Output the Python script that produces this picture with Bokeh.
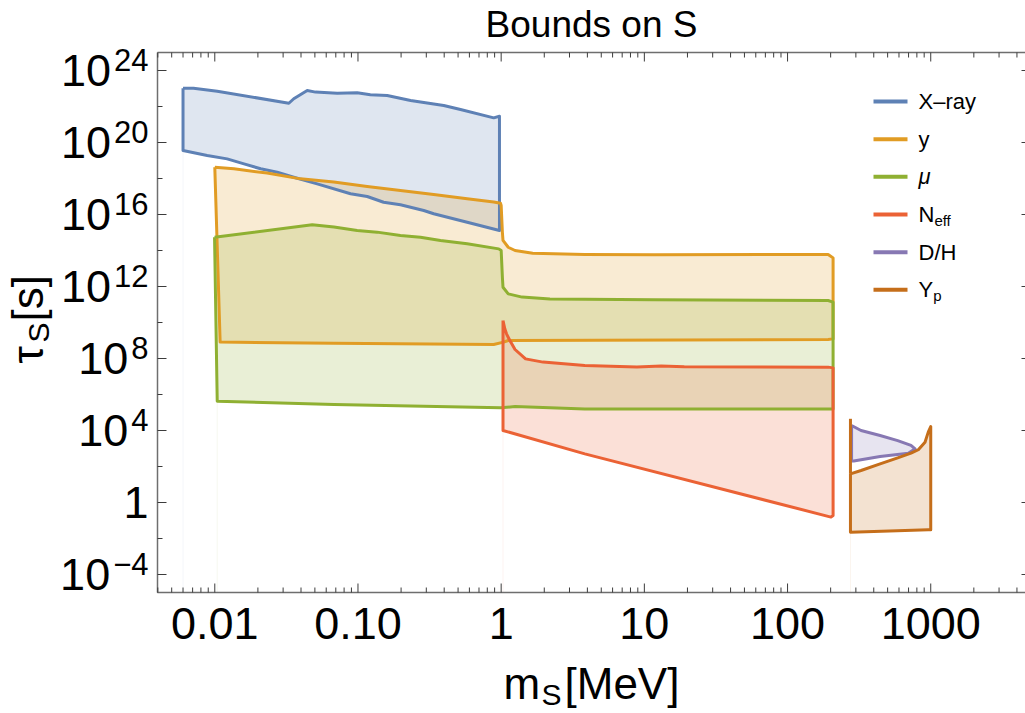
import numpy as np
from bokeh.plotting import figure
from bokeh.models import Label, Range1d
from bokeh.embed import file_html
from bokeh.resources import INLINE

FONT = "Liberation Sans"

# ---------------------------------------------------------------------------
# Excluded regions: scalar mass m_S [MeV] and log10(tau_S / s) along the
# upper ("hi") and lower ("lo") edge of each bound.
# ---------------------------------------------------------------------------
xray_hi_m = [0.0060, 0.0071, 0.0104, 0.0329, 0.0356, 0.0442, 0.0505, 0.0716,
             0.0987, 0.122, 0.160, 0.233, 0.397, 0.520, 0.887, 0.973]
xray_hi_lgt = [23.02, 23.02, 22.85, 22.18, 22.43, 22.89, 22.80, 22.74,
               22.76, 22.65, 22.61, 22.33, 22.06, 21.83, 21.37, 21.46]
xray_lo_m = [0.0060, 0.00885, 0.0122, 0.0160, 0.0209, 0.0273, 0.0356, 0.0519,
             0.0887, 0.116, 0.151, 0.198, 0.288, 0.338, 0.579, 0.973]
xray_lo_lgt = [19.56, 19.28, 19.09, 18.81, 18.54, 18.35, 18.07, 17.70,
               17.15, 17.00, 16.68, 16.54, 16.22, 16.04, 15.57, 15.11]

ydist_hi_m = [0.0100, 0.0136, 0.0232, 0.0397, 0.0678, 0.116, 0.198, 0.338,
              0.579, 0.887, 0.99, 1.00, 1.02, 1.03, 1.12, 1.25, 1.66, 3.84,
              11.7, 192, 208]
ydist_hi_lgt = [18.63, 18.54, 18.30, 17.98, 17.80, 17.56, 17.33, 17.11,
                16.87, 16.69, 16.62, 16.50, 15.00, 14.56, 14.18, 14.00, 13.85,
                13.78, 13.76, 13.78, 13.59]
ydist_lo_m = [0.0109, 0.068, 0.887, 1.04, 1.12, 192, 208]
ydist_lo_lgt = [8.91, 8.85, 8.78, 8.91, 9.00, 9.06, 9.09]

mu_hi_m = [0.00996, 0.0479, 0.068, 0.0987, 0.136, 0.198, 0.273, 0.377, 0.579,
           0.962, 1.00, 1.02, 1.03, 1.12, 1.40, 2.19, 11.7, 192, 208]
mu_hi_lgt = [14.74, 15.43, 15.30, 15.11, 15.02, 14.83, 14.74, 14.56, 14.37,
             14.09, 14.00, 12.50, 11.96, 11.59, 11.41, 11.30, 11.26, 11.22, 11.13]
mu_lo_m = [0.0104, 0.068, 0.99, 1.25, 3.84, 208]
mu_lo_lgt = [5.63, 5.44, 5.26, 5.33, 5.20, 5.20]

neff_hi_m = [1.03, 1.06, 1.09, 1.15, 1.25, 1.48, 1.96, 3.84, 8.87, 13.1, 19.0,
             192, 208]
neff_hi_lgt = [10.11, 9.65, 9.37, 9.00, 8.50, 7.98, 7.80, 7.61, 7.53, 7.58,
               7.54, 7.52, 7.48]
neff_lo_m = [1.03, 3.84, 201, 208]
neff_lo_lgt = [4.00, 2.70, -0.81, -0.72]

dh_hi_m = [280, 326, 443, 588, 728, 778]
dh_hi_lgt = [4.28, 4.00, 3.72, 3.44, 3.17, 2.98]
dh_lo_m = [280, 290, 443, 697, 778]
dh_lo_lgt = [2.30, 2.30, 2.56, 2.74, 2.98]

yp_hi_m = [275, 326, 443, 588, 728, 819, 912, 961, 1000]
yp_hi_lgt = [1.59, 1.78, 2.15, 2.48, 2.74, 2.93, 3.35, 3.91, 4.22]
yp_lo_m = [275, 961, 1000]
yp_lo_lgt = [-1.65, -1.52, -1.52]
yp_edge_m = [275, 275]
yp_edge_lgt = [1.59, 4.65]

series = [
    ("X\u2013ray", "#5E81B5", xray_hi_m, xray_hi_lgt, xray_lo_m, xray_lo_lgt),
    ("y", "#E19C24", ydist_hi_m, ydist_hi_lgt, ydist_lo_m, ydist_lo_lgt),
    ("\u03bc", "#8FB032", mu_hi_m, mu_hi_lgt, mu_lo_m, mu_lo_lgt),
    ("N", "#EB6235", neff_hi_m, neff_hi_lgt, neff_lo_m, neff_lo_lgt),
    ("D/H", "#8778B3", dh_hi_m, dh_hi_lgt, dh_lo_m, dh_lo_lgt),
    ("Y", "#C56E1A", yp_hi_m, yp_hi_lgt, yp_lo_m, yp_lo_lgt),
]
legend_sub = {"N": "eff", "Y": "p"}

# axis ticks
x_major = [0.01, 0.1, 1, 10, 100, 1000]
x_major_text = ["0.01", "0.10", "1", "10", "100", "1000"]
x_minor = [k * 10.0 ** d for d in range(-3, 4) for k in range(2, 10)]
y_major_exp = [-4, 0, 4, 8, 12, 16, 20, 24]
y_minor_exp = [-2, 2, 6, 10, 14, 18, 22]

# ---------------------------------------------------------------------------
# Geometry: the drawing frame spans the whole canvas; the plot box sits at
# FL..FR x FT..FB (pixels from the top-left corner).
# ---------------------------------------------------------------------------
W, H = 1025, 713
FL, FR, FT, FB = 157, 1025, 52, 592
X_START, X_END = 0.00398, 4590.0
Y_START, Y_END = 1e-5, 1e25
LX0, LX1 = np.log10(X_START), np.log10(X_END)
LY0, LY1 = np.log10(Y_START), np.log10(Y_END)
PX_PER_DEC_X = (FR - FL) / (LX1 - LX0)
PX_PER_DEC_Y = (FB - FT) / (LY1 - LY0)


def px_x(px):
    return 10.0 ** (LX0 + (px - FL) / PX_PER_DEC_X)


def px_y(py):
    return 10.0 ** (LY1 - (py - FT) / PX_PER_DEC_Y)


def xpix(m):
    return FL + (np.log10(m) - LX0) * PX_PER_DEC_X


def ypix(exp):
    return FT + (LY1 - exp) * PX_PER_DEC_Y


p = figure(width=W, height=H, x_axis_type="log", y_axis_type="log",
           x_range=Range1d(px_x(0), px_x(W)), y_range=Range1d(px_y(H), px_y(0)),
           x_axis_location=None, y_axis_location=None,
           output_backend="svg", toolbar_location=None, min_border=0)
p.outline_line_color = None
p.grid.visible = False
p.background_fill_color = "white"
p.border_fill_color = "white"

# ---- regions: translucent fill, then outlines ----
for name, color, hm, ht, lm, lt in series:
    xs = list(hm) + list(lm)[::-1]
    ys = list(10.0 ** np.array(list(ht) + list(lt)[::-1]))
    p.patch(xs, ys, fill_color=color, fill_alpha=0.2, line_color=None)

# faint drop lines from the regions' left edges to the axis
for m0, t0, color in [(xray_lo_m[0], xray_lo_lgt[0], "#5E81B5"),
                      (mu_lo_m[0], mu_lo_lgt[0], "#8FB032"),
                      (neff_lo_m[0], neff_lo_lgt[0], "#EB6235"),
                      (yp_lo_m[0], yp_lo_lgt[0], "#C56E1A")]:
    p.line([m0, m0], [Y_START, 10.0 ** t0], line_color=color, line_alpha=0.07,
           line_width=1)

for name, color, hm, ht, lm, lt in series:
    xs = list(hm) + list(lm)[::-1] + [hm[0]]
    ys = list(10.0 ** np.array(list(ht) + list(lt)[::-1] + [ht[0]]))
    p.line(xs, ys, line_color=color, line_width=3, line_join="round")

p.line(yp_edge_m, list(10.0 ** np.array(yp_edge_lgt)), line_color="#C56E1A",
       line_width=3)

# ---- plot box and ticks ----
AXIS_C, TICK_C = "#6e6e6e", "#3c3c3c"
p.line([X_START, X_START, X_END], [Y_END, Y_START, Y_START],
       line_color=AXIS_C, line_width=1.5)
p.line([X_START, X_END], [Y_END, Y_END], line_color=AXIS_C, line_width=1.5)

MAJ, MIN = 9, 5
fx = lambda n: 10.0 ** (n / PX_PER_DEC_X)
fy = lambda n: 10.0 ** (n / PX_PER_DEC_Y)
xm_in = [m for m in x_minor if X_START < m < X_END and m not in x_major]
for ticks, n in [(x_major, MAJ), (xm_in, MIN)]:
    p.segment(x0=ticks, y0=[Y_START] * len(ticks), x1=ticks,
              y1=[Y_START * fy(n)] * len(ticks), line_color=TICK_C, line_width=1)
    p.segment(x0=ticks, y0=[Y_END] * len(ticks), x1=ticks,
              y1=[Y_END / fy(n)] * len(ticks), line_color=TICK_C, line_width=1)
for exps, n in [(y_major_exp, MAJ), (y_minor_exp, MIN)]:
    yv = [10.0 ** e for e in exps]
    p.segment(x0=[X_START] * len(yv), y0=yv, x1=[X_START * fx(n)] * len(yv),
              y1=yv, line_color=TICK_C, line_width=1)
# right-hand ticks: only the tips of the major ticks reach into view
yv = [10.0 ** e for e in y_major_exp]
p.segment(x0=[X_END] * len(yv), y0=yv, x1=[X_END / fx(4)] * len(yv),
          y1=yv, line_color=TICK_C, line_width=1)


# ---- text placed by baseline pixel position ----
BASELINE_FIX = 0.36   # em; raises the rendered glyphs onto the given baseline


def put(text, px, py, size, align="left", angle=0.0, style="normal"):
    if angle:
        px = px - BASELINE_FIX * size
    else:
        py = py - BASELINE_FIX * size
    p.add_layout(Label(x=px_x(px), y=px_y(py), text=text, text_font=FONT,
                       text_font_size=f"{size}px", text_align=align,
                       text_baseline="alphabetic", angle=angle,
                       text_font_style=style, text_color="black"))


# title
put("Bounds on S", 591, 37, 37, align="center")

# x tick labels
for m, txt in zip(x_major, x_major_text):
    put(txt, xpix(m), 639, 45, align="center")

# y tick labels (10 with superscript exponent)
BASE, SUP = 45, 31
for e in y_major_exp:
    ty = ypix(e)
    if e == 0:
        put("1", 148, ty + 16.5, BASE, align="right")
        continue
    sup = str(e).replace("-", "\u2212")
    w_sup = sum(0.584 if ch == "\u2212" else 0.556 for ch in sup) * SUP
    put(sup, 148, ty + 1, SUP, align="right")
    put("10", 148 - w_sup - 3, ty + 16.5, BASE, align="right")

# axis titles
put("m", 503, 699, 44)
put("S", 541, 705, 30)
put("[MeV]", 564, 699, 44)

ROT = np.pi / 2
put("\u03c4", 43, 363, 44, angle=ROT)
put("S", 49, 342, 30, angle=ROT)
put("[s]", 43, 321, 44, angle=ROT)

# legend
row_y = [101, 138.7, 176.3, 214, 251.7, 289.3]
for (name, color, *_), yy in zip(series, row_y):
    p.segment(x0=[px_x(873)], y0=[px_y(yy)], x1=[px_x(907)], y1=[px_y(yy)],
              line_color=color, line_width=4)
    put(name, 918, yy + 8, 22, style="italic" if name == "\u03bc" else "normal")
    if name in legend_sub:
        put(legend_sub[name], 918 + (0.722 if name == "N" else 0.667) * 22,
            yy + 11, 15)

open("out.html", "w").write(file_html(p, INLINE))
